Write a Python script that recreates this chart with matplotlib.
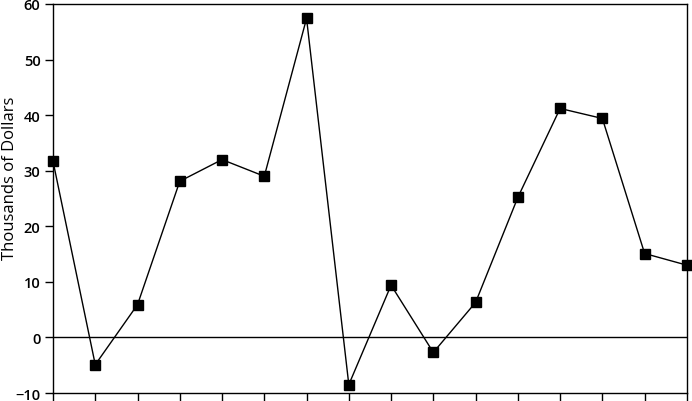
import matplotlib
matplotlib.use("Agg")
import matplotlib.pyplot as plt
import numpy as np

periods = list(range(1, 17))
values = [31.7, -4.9, 5.9, 28.1, 32.0, 29.0, 57.4, -8.5, 9.4, -2.7, 6.3, 25.2, 41.2, 39.4, 15.1, 13.0]
yticks = [-10, 0, 10, 20, 30, 40, 50, 60]
ylabel = "Thousands of Dollars"

plt.rcParams['font.family'] = ['Open Sans', 'DejaVu Sans']

fig = plt.figure(figsize=(6.92, 4.02), dpi=100)
ax = fig.add_axes([0.0766, 0.0199, 0.916, 0.9677])

ax.plot(periods, values, color='black', lw=1.0, marker='s', markersize=7.5,
        markerfacecolor='black', markeredgecolor='black', clip_on=False, zorder=3)
ax.axhline(0, color='black', lw=1.0, zorder=2)

ax.set_xlim(periods[0], periods[-1])
ax.set_ylim(-10, 60)
ax.set_yticks(yticks)
ax.set_yticklabels([str(t).replace('-', '\u2212') for t in yticks], fontsize=10.5, fontweight='semibold')
ax.set_xticks(periods)
ax.set_xticklabels([])
ax.tick_params(axis='both', direction='out', length=6, width=1.0, color='black', pad=3)
ax.set_ylabel(ylabel, fontsize=12)
ax.yaxis.set_label_coords(-0.056, 0.555)
for s in ax.spines.values():
    s.set_linewidth(1.0)
    s.set_color('black')

fig.savefig("out.png", dpi=100)
